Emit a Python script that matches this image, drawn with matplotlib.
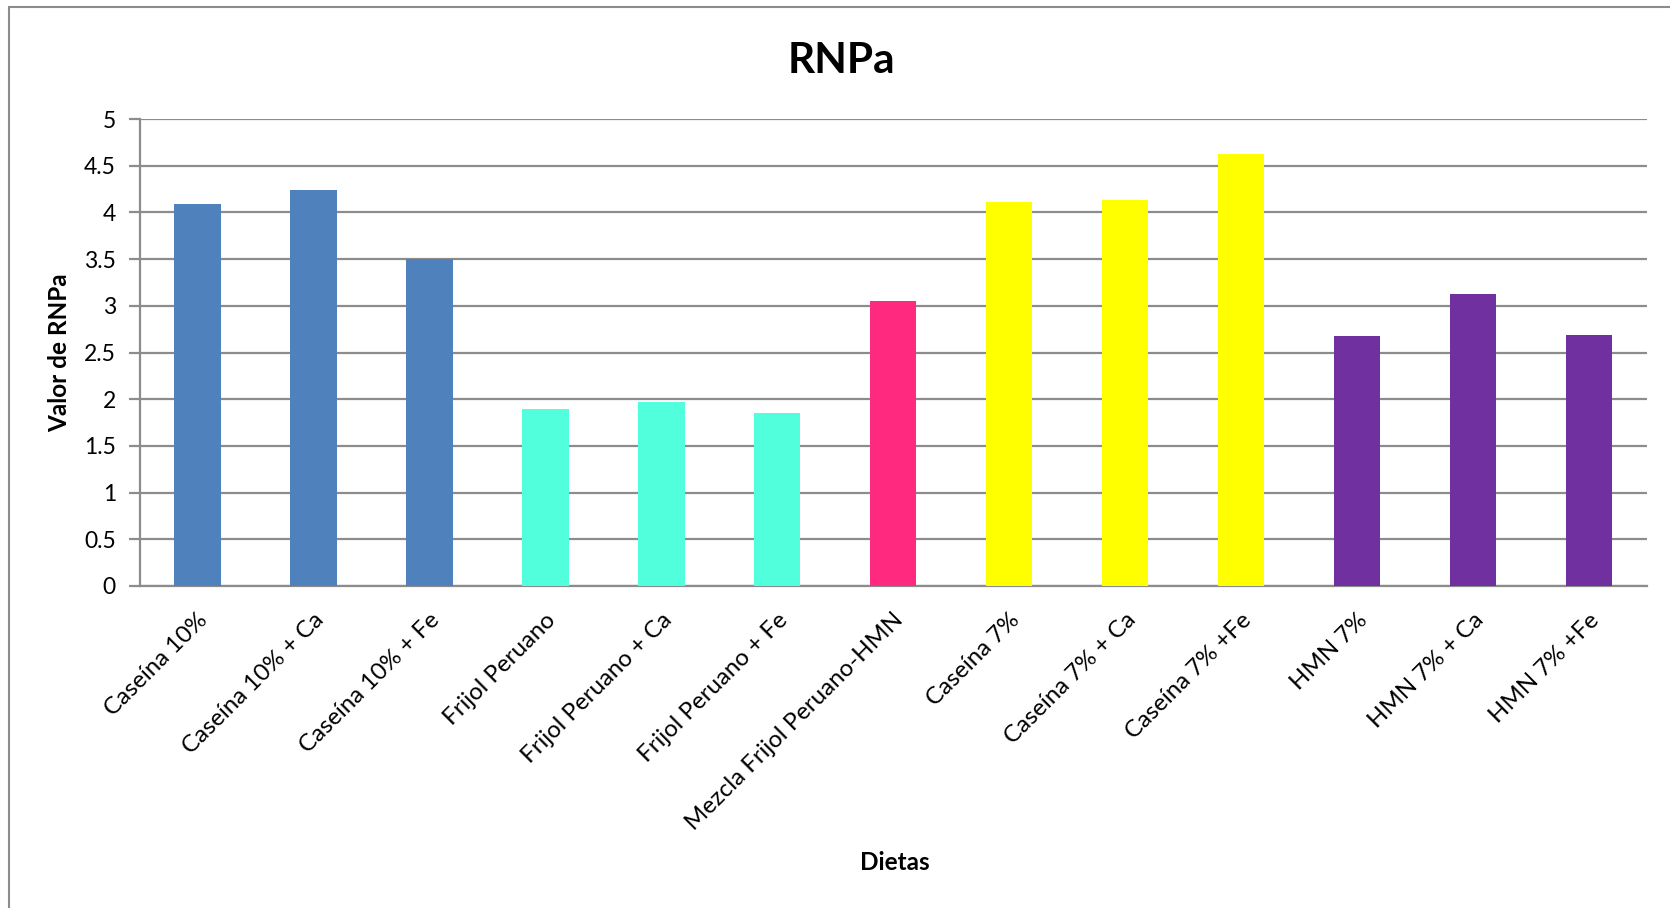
import matplotlib
matplotlib.use("Agg")
import matplotlib.pyplot as plt
from matplotlib.transforms import ScaledTranslation
from matplotlib.patches import Rectangle

plt.rcParams['font.family'] = ['Lato', 'DejaVu Sans']

dietas = [
    "Caseína 10%", "Caseína 10% + Ca", "Caseína 10% + Fe",
    "Frijol Peruano", "Frijol Peruano + Ca", "Frijol Peruano + Fe",
    "Mezcla Frijol Peruano-HMN",
    "Caseína 7%", "Caseína 7% + Ca", "Caseína 7% +Fe",
    "HMN 7%", "HMN 7% + Ca", "HMN 7% +Fe",
]
rnpa = [4.09, 4.24, 3.50, 1.90, 1.97, 1.85, 3.05, 4.11, 4.13, 4.62, 2.68, 3.13, 2.69]
colores = ["#4F81BD"] * 3 + ["#52FFDC"] * 3 + ["#FF2A80"] + ["#FFFF00"] * 3 + ["#7030A0"] * 3
y_ticks = [0, 0.5, 1, 1.5, 2, 2.5, 3, 3.5, 4, 4.5, 5]
y_tick_labels = ["0", "0.5", "1", "1.5", "2", "2.5", "3", "3.5", "4", "4.5", "5"]

W, H = 1670, 908
fig = plt.figure(figsize=(W / 100, H / 100), dpi=100)
ax = fig.add_axes([139.5 / W, 1 - 586 / H, (1647 - 139.5) / W, (586 - 119) / H])

# chart border
fig.patches.append(Rectangle((8.5 / W, -0.01), 1.2, (H - 7) / H + 0.01,
                             transform=fig.transFigure, fill=False,
                             edgecolor="#8C8C8C", linewidth=1.5))

x = list(range(len(dietas)))
ax.bar(x, rnpa, width=0.4, color=colores, zorder=3)

ax.set_xlim(-0.5, len(dietas) - 0.5)
ax.set_ylim(0, 5)
ax.set_yticks(y_ticks)
ax.set_yticklabels(y_tick_labels, fontsize=16.5)
ax.yaxis.grid(True, color="#8C8C8C", linewidth=1.6, zorder=0)
ax.set_axisbelow(True)

for side in ("top", "right"):
    ax.spines[side].set_visible(False)
for side in ("left", "bottom"):
    ax.spines[side].set_color("#8C8C8C")
    ax.spines[side].set_linewidth(1.6)
ax.tick_params(axis="y", length=8, width=1.6, color="#8C8C8C", pad=9)
ax.tick_params(axis="x", length=0)

ax.set_xticks(x)
ax.set_xticklabels(dietas, rotation=45, ha="right", va="center",
                   rotation_mode="anchor", fontsize=17.3)
offset = ScaledTranslation(7 / 100, -26 / 100, fig.dpi_scale_trans)
for lbl in ax.get_xticklabels():
    lbl.set_transform(lbl.get_transform() + offset)

fig.text(790 * 1.065 / W, 1 - 61 / H, "RNPa", ha="center", va="center",
         fontsize=30.5, fontweight="bold")
fig.text(60 / W, 1 - 353 / H, "Valor de RNPa", ha="center", va="center",
         rotation=90, fontsize=17.5, fontweight="bold")
fig.text(895 / W, 1 - 863 / H, "Dietas", ha="center", va="center",
         fontsize=17.5, fontweight="bold")

fig.savefig("out.png", dpi=100, facecolor="white")
